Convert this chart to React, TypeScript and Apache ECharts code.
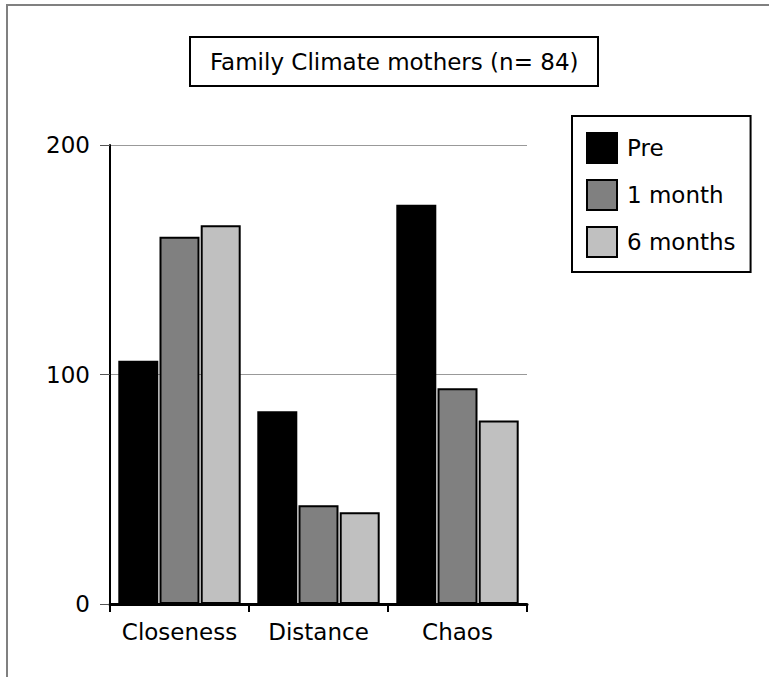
import React, { useEffect, useRef } from "react";
import * as echarts from "echarts";

const categories = ["Closeness", "Distance", "Chaos"];
const seriesNames = ["Pre", "1 month", "6 months"];
const preValues = [106, 84, 174];
const oneMonthValues = [160, 43, 94];
const sixMonthValues = [165, 40, 80];
const seriesColors = ["#000000", "#808080", "#c0c0c0"];
const titleText = "Family Climate mothers (n= 84)";
const yTicks = [0, 100, 200];

const FONT = "'DejaVu Sans', Verdana, sans-serif";

export default function App() {
  const ref = useRef<HTMLDivElement>(null);
  useEffect(() => {
    document.body.style.margin = "0";
    if (!ref.current) return;
    const chart = echarts.init(ref.current, null, { renderer: "svg" });
    const values = [preValues, oneMonthValues, sixMonthValues];
    chart.setOption({
      animation: false,
      backgroundColor: "#ffffff",
      title: {
        text: titleText,
        left: 190,
        top: 37,
        padding: [13, 20, 13, 20],
        borderColor: "#000",
        borderWidth: 2,
        textStyle: { fontFamily: FONT, fontSize: 23, fontWeight: "normal", color: "#000" },
      },
      legend: {
        orient: "vertical",
        left: 572,
        top: 116,
        padding: [16, 15, 14, 14],
        itemWidth: 30,
        itemHeight: 30,
        itemGap: 15,
        icon: "rect",
        borderColor: "#000",
        borderWidth: 2,
        data: seriesNames,
        textStyle: { fontFamily: FONT, fontSize: 23, color: "#000", padding: [0, 0, 0, 5] },
      },
      grid: { left: 110, top: 145, right: 242, bottom: 73, containLabel: false },
      xAxis: {
        type: "category",
        data: categories,
        axisLine: { lineStyle: { color: "#000", width: 3 } },
        axisTick: { show: true, interval: 0, length: 8, lineStyle: { color: "#000", width: 2 } },
        axisLabel: { interval: 0, margin: 16, fontFamily: FONT, fontSize: 23, color: "#000" },
      },
      yAxis: {
        type: "value",
        min: yTicks[0],
        max: yTicks[yTicks.length - 1],
        interval: 100,
        axisLine: { show: true, lineStyle: { color: "#000", width: 2 } },
        axisTick: { show: true, length: 10, lineStyle: { color: "#555", width: 1 } },
        axisLabel: { margin: 20, fontFamily: FONT, fontSize: 23, color: "#000" },
        splitLine: { show: true, lineStyle: { color: "#999", width: 1 } },
      },
      graphic: [
        {
          type: "rect",
          shape: { x: 7, y: 5, width: 900, height: 900 },
          style: { fill: "none", stroke: "#808080", lineWidth: 2 },
          silent: true,
          z: -10,
        },
      ],
      series: seriesNames.map((name, i) => ({
        name,
        type: "bar",
        data: values[i],
        barWidth: 40,
        barGap: "3%",
        itemStyle: { color: seriesColors[i], borderColor: "#000", borderWidth: 2 },
      })),
    });
    return () => chart.dispose();
  }, []);
  return <div ref={ref} style={{ width: 769, height: 677 }} />;
}
